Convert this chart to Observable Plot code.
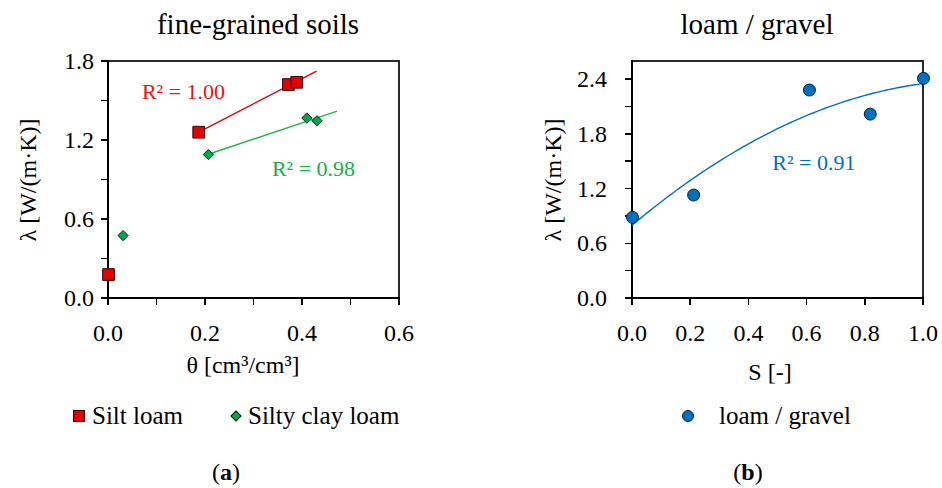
<!DOCTYPE html>
<html>
<head>
<meta charset="utf-8">
<script src="https://cdn.jsdelivr.net/npm/d3@7"></script>
<script src="https://cdn.jsdelivr.net/npm/@observablehq/plot@0.6"></script>
<style>
  html, body { margin: 0; padding: 0; background: #fff; }
  #wrap { position: relative; width: 942px; height: 488px; font-family: "Liberation Serif", serif; color: #000; }
  .lbl { position: absolute; white-space: nowrap; line-height: 1; }
  .seg { position: absolute; }
  .chart { position: absolute; top: 0; }
</style>
</head>
<body>
<div id="wrap"></div>
<script>
// ---------- data ----------
// Panel (a): fine-grained soils
const siltTheta   = [0.000, 0.186, 0.371, 0.388];
const siltLambda  = [0.182, 1.263, 1.625, 1.642];
const siltyTheta  = [0.030, 0.206, 0.409, 0.430];
const siltyLambda = [0.478, 1.093, 1.371, 1.350];
// Panel (b): loam / gravel
const gravelS      = [0.000, 0.210, 0.608, 0.817, 1.000];
const gravelLambda = [0.890, 1.135, 2.287, 2.023, 2.415];

// axis domains and tick values
const xDomainA = [0, 0.6], yDomainA = [0, 1.8];
const xDomainB = [0, 1.0], yDomainB = [0, 2.6];
const xMajorA = [0, 0.2, 0.4, 0.6];
const xMinorA = [0.1, 0.3, 0.5];
const yMajorA = [0, 0.6, 1.2, 1.8];
const yMinorA = [0.3, 0.9, 1.5];
const xMajorB = [0, 0.2, 0.4, 0.6, 0.8, 1.0];
const yMajorB = [0, 0.6, 1.2, 1.8, 2.4];
const yMinorB = [0.3, 0.9, 1.5, 2.1];

// texts
const titleA = "fine-grained soils";
const titleB = "loam / gravel";
const xLabelA = "θ [cm³/cm³]";
const xLabelB = "S [-]";
const yLabel = "λ [W/(m·K)]";
const seriesNames = ["Silt loam", "Silty clay loam", "loam / gravel"];
const r2Texts = ["R² = 1.00", "R² = 0.98", "R² = 0.91"];
const r2X = [0.070, 0.338, 0.482];
const r2Y = [1.567, 0.981, 1.482];

// trendline settings (fits use the wet points only, index >= 1, as in the source)
const trendForward = 0.04;

// ---------- fits ----------
function linFit(xs, ys) {
  const mx = d3.mean(xs), my = d3.mean(ys);
  let sxx = 0, sxy = 0;
  xs.forEach((x, i) => { sxx += (x - mx) ** 2; sxy += (x - mx) * (ys[i] - my); });
  const b = sxy / sxx;
  return { a: my - b * mx, b };
}
function quadFit(xs, ys) {
  const S = k => d3.sum(xs, x => x ** k);
  const T = k => d3.sum(xs, (x, i) => x ** k * ys[i]);
  const M = [[S(0), S(1), S(2), T(0)], [S(1), S(2), S(3), T(1)], [S(2), S(3), S(4), T(2)]];
  for (let i = 0; i < 3; i++) {
    for (let j = i + 1; j < 3; j++) {
      const f = M[j][i] / M[i][i];
      for (let k = i; k < 4; k++) M[j][k] -= f * M[i][k];
    }
  }
  const c = [0, 0, 0];
  for (let i = 2; i >= 0; i--) {
    let s = M[i][3];
    for (let k = i + 1; k < 3; k++) s -= M[i][k] * c[k];
    c[i] = s / M[i][i];
  }
  return c;
}
function lineTrend(xs, ys) {
  const fx = xs.slice(1), fy = ys.slice(1);
  const f = linFit(fx, fy);
  const x0 = d3.min(fx), x1 = d3.max(fx) + trendForward;
  return [x0, x1].map(x => ({ x, y: f.a + f.b * x }));
}
const silt  = siltTheta.map((x, i) => ({ x, y: siltLambda[i] }));
const silty = siltyTheta.map((x, i) => ({ x, y: siltyLambda[i] }));
const gravel = gravelS.map((x, i) => ({ x, y: gravelLambda[i] }));
const siltTrend = lineTrend(siltTheta, siltLambda);
const siltyTrend = lineTrend(siltyTheta, siltyLambda);
const qc = quadFit(gravelS, gravelLambda);
const gravelTrend = d3.range(0, 101).map(i => {
  const x = d3.min(gravelS) + (d3.max(gravelS) - d3.min(gravelS)) * i / 100;
  return { x, y: qc[0] + qc[1] * x + qc[2] * x * x };
});

// ---------- style ----------
const RED = "#e60000", RED_TXT = "#ee1111";
const GREEN = "#00a550", GREEN_LINE = "#22b24c", GREEN_TXT = "#12b04a";
const BLUE = "#0070c0";
const FONT = "Liberation Serif";
const fmt = d3.format(".1f");

const wrap = document.getElementById("wrap");

const plotA = Plot.plot({
  width: 471, height: 350,
  marginLeft: 108, marginRight: 72, marginTop: 61, marginBottom: 52,
  style: { "font-family": FONT, "font-size": "24px", "overflow": "visible" },
  x: { domain: xDomainA, axis: null },
  y: { domain: yDomainA, axis: null },
  marks: [
    Plot.line(siltTrend, { x: "x", y: "y", stroke: RED, strokeWidth: 1.4 }),
    Plot.line(siltyTrend, { x: "x", y: "y", stroke: GREEN_LINE, strokeWidth: 1.4 }),
    Plot.dot(silt, { x: "x", y: "y", symbol: "square", r: 6.6, fill: RED, stroke: "#3a0000", strokeWidth: 1 }),
    Plot.dot(silty, { x: "x", y: "y", symbol: "diamond2", r: 4.6, fill: GREEN, stroke: "#002a10", strokeWidth: 1 })
  ]
});
plotA.classList.add("chart");
plotA.style.left = "0px";

const plotB = Plot.plot({
  width: 471, height: 350,
  marginLeft: 161, marginRight: 19, marginTop: 61, marginBottom: 52,
  style: { "font-family": FONT, "font-size": "24px", "overflow": "visible" },
  x: { domain: xDomainB, axis: null },
  y: { domain: yDomainB, axis: null },
  marks: [
    Plot.line(gravelTrend, { x: "x", y: "y", stroke: BLUE, strokeWidth: 1.4 }),
    Plot.dot(gravel, { x: "x", y: "y", r: 6, fill: BLUE, stroke: "#00223d", strokeWidth: 1 })
  ]
});
plotB.classList.add("chart");
plotB.style.left = "471px";

// ---------- html helpers ----------
function place(text, x, y, size, opts = {}) {
  const d = document.createElement("div");
  d.className = "lbl";
  d.textContent = text;
  d.style.fontSize = size + "px";
  d.style.left = x + "px";
  d.style.top = y + "px";
  if (opts.color) d.style.color = opts.color;
  const tx = opts.anchor === "start" ? "0" : opts.anchor === "end" ? "-100%" : "-50%";
  d.style.transform = `translate(${tx}, -50%)` + (opts.rotate ? ` rotate(${opts.rotate}deg)` : "");
  wrap.appendChild(d);
  return d;
}
function seg(x, y, w, h, color) {
  const d = document.createElement("div");
  d.className = "seg";
  d.style.left = x + "px";
  d.style.top = y + "px";
  d.style.width = w + "px";
  d.style.height = h + "px";
  d.style.background = color;
  wrap.appendChild(d);
}
function caption(letter, x, y) {
  const d = document.createElement("div");
  d.className = "lbl";
  d.style.fontSize = "24px";
  d.style.left = x + "px";
  d.style.top = y + "px";
  d.style.transform = "translate(-50%, -50%)";
  d.innerHTML = `(<b>${letter}</b>)`;
  wrap.appendChild(d);
}
function swatch(x, y, css) {
  const d = document.createElement("div");
  d.style.position = "absolute";
  d.style.left = x + "px";
  d.style.top = y + "px";
  d.style.boxSizing = "border-box";
  Object.assign(d.style, css);
  wrap.appendChild(d);
}

// axes, frame, ticks and tick labels positioned through each plot's own scales
function decorate(plot, left, xd, yd, xMajor, xMinor, yMajor, yMinor, yLabelGap, r2idx, r2colors) {
  const X = plot.scale("x"), Y = plot.scale("y");
  const sx = v => left + X.apply(v), sy = v => Y.apply(v);
  const xl = sx(xd[0]), xr = sx(xd[1]), yb = sy(yd[0]), yt = sy(yd[1]);
  // frame top and right
  seg(xl, yt - 0.8, xr - xl + 0.8, 1.6, "#2a2a2a");
  seg(xr - 0.8, yt - 0.8, 1.6, yb - yt + 0.8, "#2a2a2a");
  // axis lines left and bottom
  seg(xl - 1.1, yt - 0.8, 2.2, yb - yt + 1.9, "#000");
  seg(xl - 1.1, yb - 1.1, xr - xl + 1.9, 2.2, "#000");
  // ticks (outward, 6px)
  [...xMajor, ...xMinor].forEach(v => seg(sx(v) - 0.8, yb, 1.6, 7, "#000"));
  [...yMajor, ...yMinor].forEach(v => seg(xl - 7, sy(v) - 0.8, 7, 1.6, "#000"));
  // tick labels
  xMajor.forEach(v => place(fmt(v), sx(v), yb + 35, 24));
  yMajor.forEach(v => place(fmt(v), xl - yLabelGap, sy(v), 24, { anchor: "end" }));
  // R² annotations
  r2idx.forEach((i, k) => place(r2Texts[i], sx(r2X[i]), sy(r2Y[i]), 22, { anchor: "start", color: r2colors[k] }));
}

decorate(plotA, 0, xDomainA, yDomainA, xMajorA, xMinorA, yMajorA, yMinorA, 14, [0, 1], [RED_TXT, GREEN_TXT]);
decorate(plotB, 471, xDomainB, yDomainB, xMajorB, [], yMajorB, yMinorB, 25, [2], [BLUE]);

wrap.appendChild(plotA);
wrap.appendChild(plotB);

place(titleA, 258, 24, 29);
place(titleB, 757, 24, 29);
place(yLabel, 28, 180, 24, { rotate: -90 });
place(yLabel, 553, 180, 24, { rotate: -90 });
place(xLabelA, 243, 365, 24);
place(xLabelB, 770, 372, 24);

swatch(73, 410, { width: "12px", height: "12px", background: RED, border: "1px solid #3a0000" });
place(seriesNames[0], 92, 415, 25, { anchor: "start" });
swatch(232, 412, { width: "8px", height: "8px", background: GREEN, border: "1px solid #002a10", transform: "rotate(45deg)" });
place(seriesNames[1], 248, 415, 25, { anchor: "start" });
swatch(682, 410, { width: "12px", height: "12px", background: BLUE, border: "1px solid #00223d", borderRadius: "50%" });
place(seriesNames[2], 719, 415, 25, { anchor: "start" });

caption("a", 226, 472);
caption("b", 748, 472);
</script>
</body>
</html>
